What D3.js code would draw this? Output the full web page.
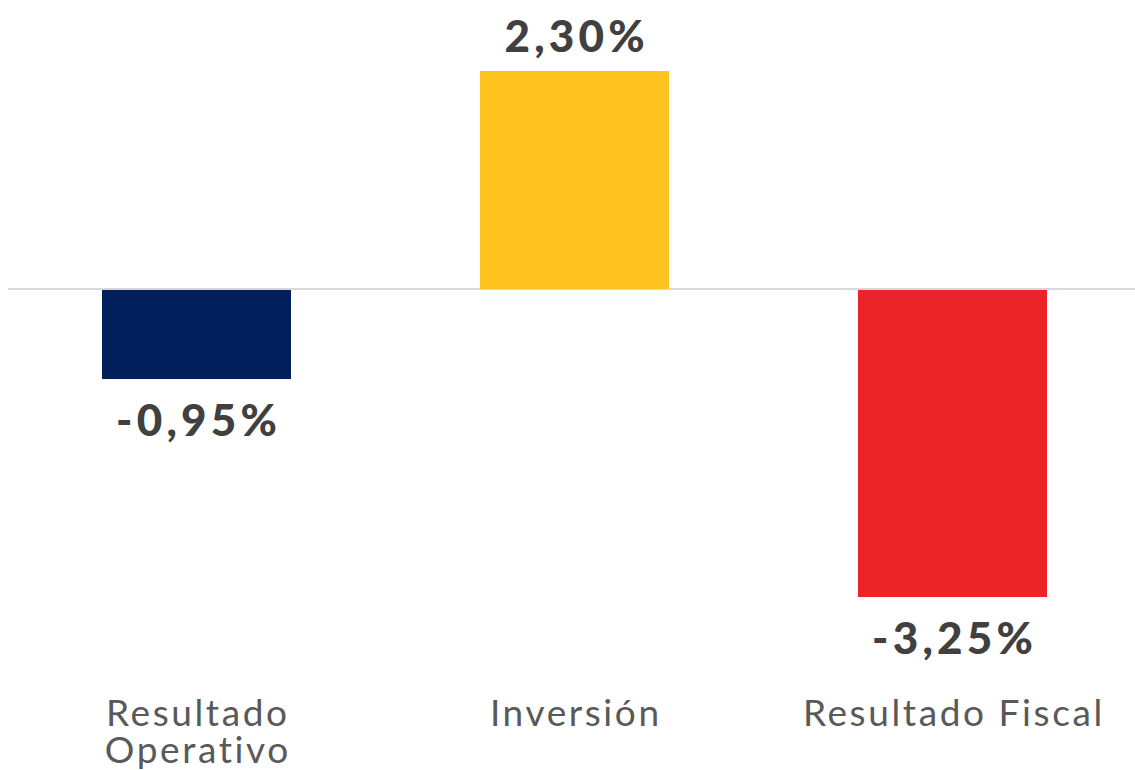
<!DOCTYPE html>
<html>
<head>
<meta charset="utf-8">
<script src="https://cdn.jsdelivr.net/npm/d3@7"></script>
<style>
  html, body { margin: 0; padding: 0; background: #ffffff; }
  svg { display: block; }
</style>
</head>
<body>
<svg id="chart" width="1135" height="770"></svg>
<script>
// Fiscal results, as share of GDP (%)
const categories = ["Resultado Operativo", "Inversión", "Resultado Fiscal"];
const categoryLines = [["Resultado", "Operativo"], ["Inversión"], ["Resultado Fiscal"]];
const values = [-0.95, 2.30, -3.25];
const valueLabels = ["-0,95%", "2,30%", "-3,25%"];
const barColors = ["#001f5b", "#fec31e", "#ed232a"];

const width = 1135, height = 770;
const svg = d3.select("#chart");

const x = d3.scaleBand()
  .domain(categories)
  .range([7.5, 1141.5])
  .paddingInner(0.5)
  .paddingOuter(0.25);

const y = d3.scaleLinear()
  .domain([-3.25, 2.30])
  .range([597, 71]);

// zero baseline
svg.append("line")
  .attr("x1", 8).attr("x2", width)
  .attr("y1", y(0)).attr("y2", y(0))
  .attr("stroke", "#d9d9d9")
  .attr("stroke-width", 2);

// bars
svg.selectAll("rect.bar")
  .data(values)
  .join("rect")
  .attr("class", "bar")
  .attr("x", (d, i) => x(categories[i]))
  .attr("width", x.bandwidth())
  .attr("y", d => d >= 0 ? y(d) : y(0) + 1)
  .attr("height", d => d >= 0 ? y(0) - y(d) : y(d) - y(0) - 1)
  .attr("fill", (d, i) => barColors[i]);

// value labels
const valueSpacing = 4.2;
svg.selectAll("text.value")
  .data(values)
  .join("text")
  .attr("class", "value")
  .attr("x", (d, i) => x(categories[i]) + x.bandwidth() / 2 + valueSpacing / 2)
  .attr("y", d => d >= 0 ? y(d) - 19 : y(d) + 57)
  .attr("text-anchor", "middle")
  .attr("font-family", "Lato, 'Open Sans', sans-serif")
  .attr("font-weight", 900)
  .attr("font-size", 44)
  .attr("letter-spacing", valueSpacing)
  .attr("fill", "#404040")
  .text((d, i) => valueLabels[i]);

// category labels
const catSpacing = 2.6;
const cat = svg.selectAll("g.cat")
  .data(categories)
  .join("g")
  .attr("class", "cat")
  .attr("transform", d => `translate(${x(d) + x.bandwidth() / 2 + catSpacing / 2},726)`);

cat.selectAll("text")
  .data((d, i) => categoryLines[i])
  .join("text")
  .attr("x", 0)
  .attr("y", (d, j) => j * 37)
  .attr("text-anchor", "middle")
  .attr("font-family", "Lato, 'Open Sans', sans-serif")
  .attr("font-weight", 400)
  .attr("font-size", 37)
  .attr("letter-spacing", catSpacing)
  .attr("fill", "#595959")
  .text(d => d);
</script>
</body>
</html>
